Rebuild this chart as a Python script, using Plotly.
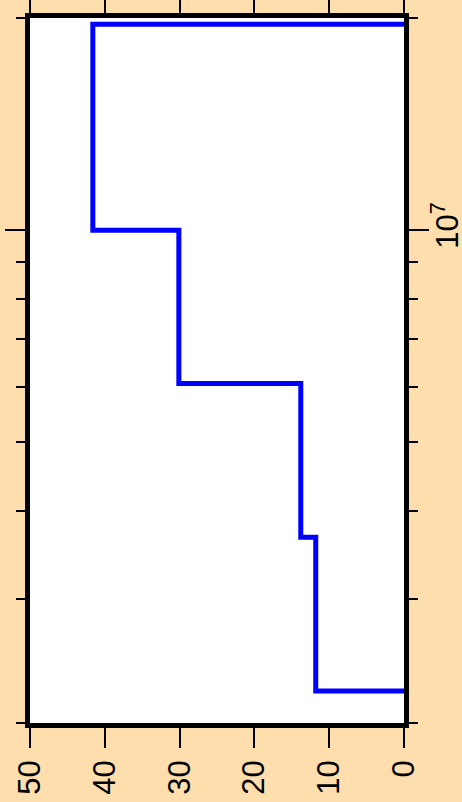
import plotly.graph_objects as go

# Step outline: bin edges on a log scale and the count in each bin
bin_edges = [2.22e6, 3.67e6, 6.06e6, 1.0e7, 1.96e7]
bin_counts = [11.8, 13.8, 30.1, 41.6]

# x-axis (count) ticks and y-axis (log) ticks
count_ticks = [50, 40, 30, 20, 10, 0]
major_y_ticks = [1e7]
major_y_text = ["10<sup>7</sup>"]
minor_y_ticks = [2e6, 3e6, 4e6, 5e6, 6e6, 7e6, 8e6, 9e6, 2e7]

# outline path: start at zero, climb through each bin, return to zero
xs = [0] + bin_counts + [0]
ys = [bin_edges[0]] + bin_edges

FONT = "Liberation Sans, Arial, Helvetica, sans-serif"
BG = "#FFDEAD"

fig = go.Figure()
fig.add_trace(go.Scatter(
    x=xs, y=ys, mode="lines", line=dict(color="#0000FF", width=5, shape="vh"),
    showlegend=False, hoverinfo="skip",
))

fig.update_layout(
    width=462, height=802,
    margin=dict(l=30, r=58, t=18, b=79, pad=0),
    paper_bgcolor=BG, plot_bgcolor="white",
    font=dict(family=FONT, size=31, color="black"),
    showlegend=False,
    xaxis=dict(
        range=[50, 0], tickmode="array", tickvals=count_ticks,
        ticktext=[str(v) for v in count_ticks], tickangle=-90,
        ticks="outside", ticklen=20, tickwidth=2, tickcolor="black",
        showline=True, linecolor="black", linewidth=4.5, mirror="ticks",
        showgrid=False, zeroline=False, automargin=False,
    ),
    yaxis=dict(
        type="log", side="right",
        range=[6.30103, 7.30103], tickmode="array", tickvals=major_y_ticks,
        ticktext=major_y_text, tickangle=-90, ticklabelstandoff=-8,
        ticks="outside", ticklen=20, tickwidth=2, tickcolor="black",
        minor=dict(tickmode="array", tickvals=minor_y_ticks, ticks="outside",
                   ticklen=9, tickwidth=2, tickcolor="black", showgrid=False),
        showline=True, linecolor="black", linewidth=4.5, mirror="ticks",
        showgrid=False, zeroline=False, automargin=False,
    ),
)

fig.write_html("out.html")
